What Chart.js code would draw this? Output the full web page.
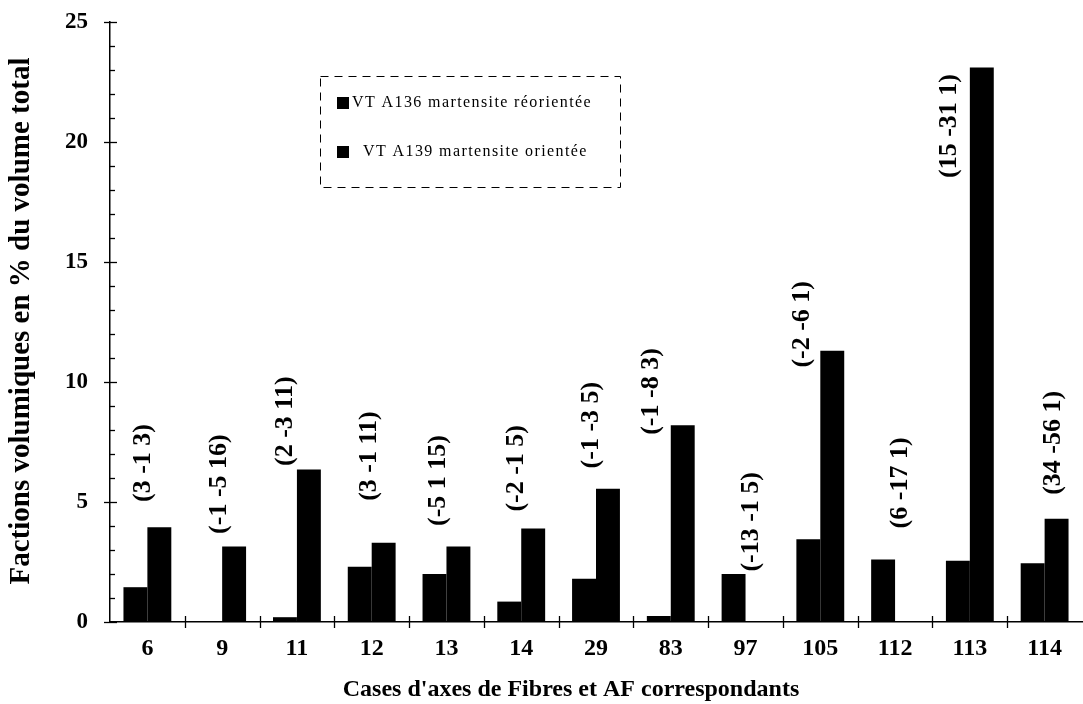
<!DOCTYPE html>
<html><head><meta charset="utf-8">
<script src="https://cdn.jsdelivr.net/npm/chart.js@4.4.1/dist/chart.umd.min.js"></script>
<style>html,body{margin:0;padding:0;background:#fff}</style>
</head><body>
<canvas id="c" width="1083" height="704"></canvas>
<script>
const categories = ['6','9','11','12','13','14','29','83','97','105','112','113','114'];
const seriesNames = ['VT A136 martensite réorientée', 'VT A139 martensite orientée'];
const a136 = [1.45, 0, 0.2, 2.3, 2.0, 0.85, 1.8, 0.25, 2.0, 3.45, 2.6, 2.55, 2.45];
const a139 = [3.95, 3.15, 6.35, 3.3, 3.15, 3.9, 5.55, 8.2, 0, 11.3, 0, 23.1, 4.3];
const fibreAxes = ['(3 -1 3)', '(-1 -5 16)', '(2 -3 11)', '(3 -1 11)', '(-5 1 15)', '(-2 -1 5)', '(-1 -3 5)', '(-1 -8 3)', '(-13 -1 5)', '(-2 -6 1)', '(6 -17 1)', '(15 -31 1)', '(34 -56 1)'];
const fibreAxesBase = [5.0, 3.67, 6.5, 5.05, 4.0, 4.6, 6.4, 7.8, 2.1, 10.6, 3.9, 18.5, 5.3];
const yTicks = [0, 5, 10, 15, 20, 25];
const xTitle = "Cases d'axes de Fibres et AF correspondants";
const yTitle = 'Factions volumiques en % du volume total';

const SERIF = '"Liberation Serif", "DejaVu Serif", serif';
const labelShift = [-4, -3, -12, -2, -8, -5, -5, -19, 6, -18, 5, -21, 9];

const decor = {
  id: 'decor',
  afterDatasetsDraw(chart) {
    const {ctx, scales: {x, y}} = chart;
    ctx.save();
    ctx.fillStyle = '#000';
    ctx.font = 'bold 26px ' + SERIF;
    ctx.textAlign = 'left';
    ctx.textBaseline = 'middle';
    fibreAxes.forEach((t, i) => {
      const px = x.getPixelForValue(i) + labelShift[i];
      const py = y.getPixelForValue(fibreAxesBase[i]);
      ctx.save();
      ctx.translate(px, py);
      ctx.rotate(-Math.PI / 2);
      ctx.fillText(t, 0, 0);
      ctx.restore();
    });
    ctx.restore();
  },
  afterDraw(chart) {
    const {ctx, scales: {x, y}} = chart;
    ctx.save();
    ctx.strokeStyle = '#000';
    ctx.lineWidth = 1.3;
    for (let v = 0; v <= 25; v++) {
      const py = Math.round(y.getPixelForValue(v)) + 0.5;
      ctx.beginPath();
      if (v % 5 === 0) { ctx.moveTo(x.left - 6, py); ctx.lineTo(x.left + 7, py); }
      else { ctx.moveTo(x.left, py); ctx.lineTo(x.left + 5, py); }
      ctx.stroke();
    }
    for (let i = 1; i < categories.length; i++) {
      const px = Math.round((x.getPixelForValue(i - 1) + x.getPixelForValue(i)) / 2) + 0.5;
      ctx.beginPath(); ctx.moveTo(px, y.bottom - 6); ctx.lineTo(px, y.bottom + 6); ctx.stroke();
    }
    // axis titles
    ctx.fillStyle = '#000';
    ctx.font = 'bold 24px ' + SERIF;
    ctx.textAlign = 'center';
    ctx.textBaseline = 'middle';
    ctx.fillText(xTitle, 571, 690);
    ctx.save();
    ctx.translate(22, 321);
    ctx.rotate(-Math.PI / 2);
    ctx.font = 'bold 29px ' + SERIF;
    ctx.fillText(yTitle, 0, 0);
    ctx.restore();
    // legend box
    ctx.save();
    ctx.setLineDash([8, 6]);
    ctx.lineWidth = 1;
    ctx.strokeRect(320.5, 76.5, 300, 111);
    ctx.restore();
    ctx.font = '16px ' + SERIF;
    ctx.textAlign = 'left';
    ctx.textBaseline = 'middle';
    try { ctx.letterSpacing = '1.4px'; } catch (e) {}
    const items = [{sx: 337, sy: 97, tx: 352}, {sx: 337, sy: 146, tx: 363}];
    chart.data.datasets.forEach((ds, i) => {
      const it = items[i];
      ctx.fillStyle = ds.backgroundColor;
      ctx.fillRect(it.sx, it.sy, 12, 12);
      ctx.fillStyle = '#000';
      ctx.fillText(ds.label, it.tx, it.sy + 6);
    });
    ctx.restore();
  }
};

new Chart(document.getElementById('c'), {
  type: 'bar',
  data: {
    labels: categories,
    datasets: [
      {label: seriesNames[0], data: a136, backgroundColor: '#000', borderWidth: 0, barPercentage: 1, categoryPercentage: 0.64},
      {label: seriesNames[1], data: a139, backgroundColor: '#000', borderWidth: 0, barPercentage: 1, categoryPercentage: 0.64}
    ]
  },
  options: {
    responsive: false,
    animation: false,
    layout: {padding: {top: 22, right: 1, left: 0, bottom: 0}},
    plugins: {legend: {display: false}, tooltip: {enabled: false}},
    scales: {
      x: {
        grid: {display: false, drawTicks: false},
        border: {display: true, color: '#000', width: 1.5},
        ticks: {color: '#000', font: {family: SERIF, size: 24, weight: 'bold'}, padding: 12, maxRotation: 0},
        afterFit: s => { s.height = 82; }
      },
      y: {
        min: 0, max: 25,
        afterBuildTicks: s => { s.ticks = yTicks.map(v => ({value: v})); },
        grid: {display: false, drawTicks: true, tickLength: 20},
        border: {display: true, color: '#000', width: 1.5},
        ticks: {color: '#000', font: {family: SERIF, size: 23, weight: 'bold'}, padding: 2},
        afterFit: s => { s.width = 110; }
      }
    }
  },
  plugins: [decor]
});
</script>
</body></html>
